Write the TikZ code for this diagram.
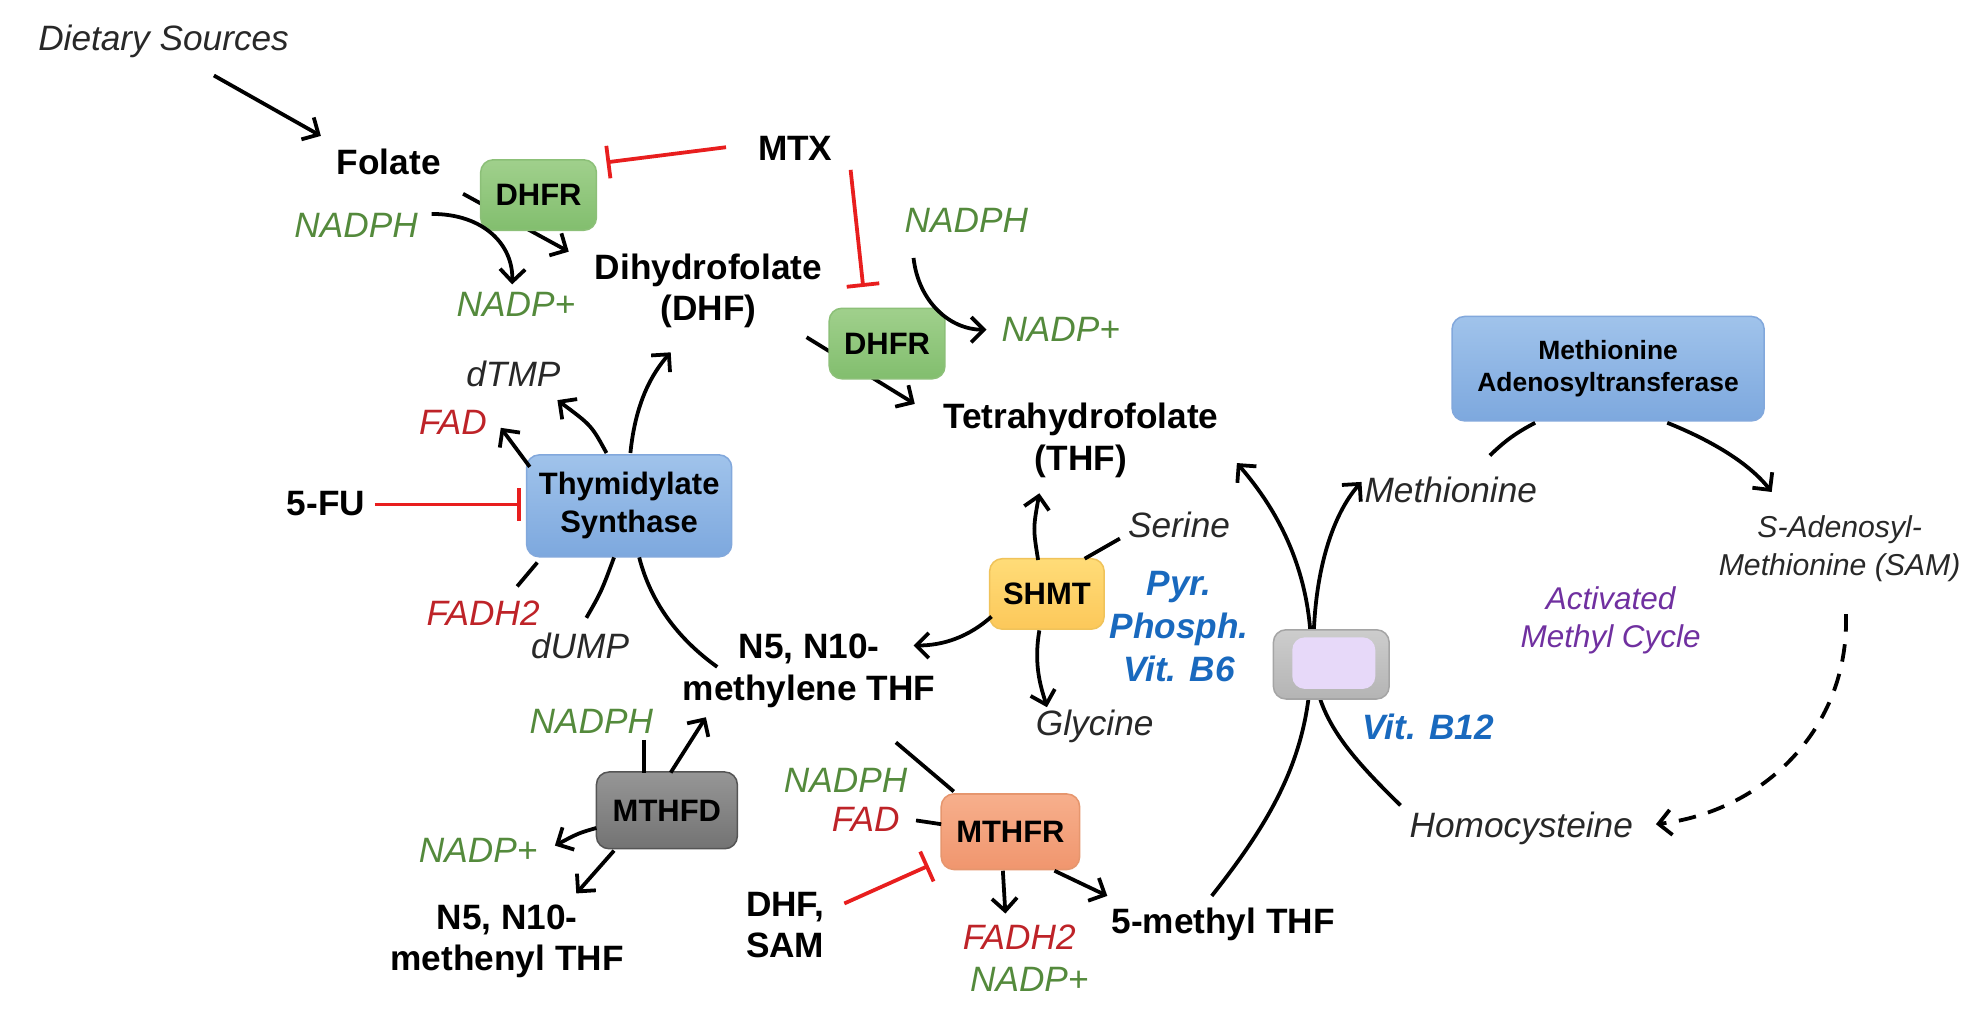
\documentclass[tikz,border=0pt]{standalone}
\usepackage{fontspec}
\setmainfont{Liberation Sans}
\usetikzlibrary{arrows.meta,calc}
\definecolor{grtxt}{RGB}{84,138,60}
\definecolor{rdtxt}{RGB}{190,35,40}
\definecolor{bltxt}{RGB}{25,105,190}
\definecolor{pptxt}{RGB}{112,48,160}
\definecolor{inhred}{RGB}{232,30,30}
\definecolor{cofgray}{RGB}{40,40,40}
\begin{document}
\begin{tikzpicture}[x=0.5pt,y=-0.5pt,
  cmp/.style={font=\bfseries\fontsize{14}{16.5}\selectfont, align=center, inner sep=0pt, text=black},
  cof/.style={font=\itshape\fontsize{14}{16.5}\selectfont, align=center, inner sep=0pt, text=cofgray},
  grn/.style={font=\itshape\fontsize{14}{16.5}\selectfont, align=center, inner sep=0pt, text=grtxt},
  rdt/.style={font=\itshape\fontsize{14}{16.5}\selectfont, align=center, inner sep=0pt, text=rdtxt},
  blt/.style={font=\bfseries\itshape\fontsize{14}{17}\selectfont, align=center, inner sep=0pt, text=bltxt},
  ppt/.style={font=\itshape\fontsize{12.5}{15}\selectfont, align=center, inner sep=0pt, text=pptxt},
  enz/.style={rounded corners=5pt, draw, line width=0.6pt, font=\bfseries\fontsize{12.3}{15}\selectfont, align=center, inner sep=0pt, text=black},
  dhfrbox/.style={enz, draw={rgb,255:red,140;green,192;blue,120}, top color={rgb,255:red,160;green,208;blue,140}, bottom color={rgb,255:red,130;green,190;blue,110}, minimum width=46pt, minimum height=28pt},
  bluebox/.style={enz, draw={rgb,255:red,130;green,168;blue,220}, top color={rgb,255:red,160;green,195;blue,235}, bottom color={rgb,255:red,125;green,168;blue,222}},
  shmtbox/.style={enz, draw={rgb,255:red,240;green,195;blue,90}, top color={rgb,255:red,255;green,220;blue,120}, bottom color={rgb,255:red,252;green,200;blue,90}, minimum width=45.5pt, minimum height=28pt},
  mthfrbox/.style={enz, draw={rgb,255:red,230;green,150;blue,110}, top color={rgb,255:red,247;green,175;blue,140}, bottom color={rgb,255:red,240;green,150;blue,110}, minimum width=55pt, minimum height=30pt},
  mthfdbox/.style={enz, draw={rgb,255:red,85;green,85;blue,85}, top color={rgb,255:red,150;green,150;blue,150}, bottom color={rgb,255:red,115;green,115;blue,115}, minimum width=56pt, minimum height=30.5pt},
  conn/.style={line width=1.5pt, black},
  arr/.style={conn, -{Straight Barb[length=5pt,width=10pt]}},
  inh/.style={line width=1.5pt, inhred, -{Bar[width=13pt]}}
]
\useasboundingbox (0,0) rectangle (1568,815);
\fill[white] (0,0) rectangle (1568,815);

% ---------- nodes ----------
\node[cof, anchor=west] (diet) at (30,33) {Dietary Sources};
\node[cmp] (folate) at (309,129) {Folate};
\node[grn] (nadph1) at (283,179) {NADPH};
\node[grn] (nadp1) at (410,242) {NADP+};
\node[cmp] (dhf) at (563,231) {Dihydrofolate\\(DHF)};
\node[cmp] (mtx) at (632,118) {MTX};
\node[grn] (nadph2) at (768,175) {NADPH};
\node[grn] (nadp2) at (843,262) {NADP+};
\node[cmp] (thf) at (859,350) {Tetrahydrofolate\\(THF)};
\node[cof] (dtmp) at (408,297) {dTMP};
\node[rdt] (fad1) at (360,336) {FAD};
\node[cmp] (fu) at (259,400) {5-FU};
\node[rdt] (fadh1) at (384,487) {FADH2};
\node[cof] (dump) at (461,513) {dUMP};
\node[cmp] (mthf) at (643,533) {N5, N10-\\methylene THF};
\node[cof] (serine) at (937,417) {Serine};
\node[cof] (glycine) at (870,577) {Glycine};
\node[blt] (b6) at (937,498) {Pyr.\\Phosph.\\Vit. B6};
\node[grn] (nadph3) at (470,573) {NADPH};
\node[grn] (nadp3) at (380,676) {NADP+};
\node[cmp] (methenyl) at (403,748) {N5, N10-\\methenyl THF};
\node[grn] (nadph4) at (672,620) {NADPH};
\node[rdt] (fad2) at (688,651) {FAD};
\node[cmp] (dhfsam) at (624,735) {DHF,\\SAM};
\node[rdt] (fadh2b) at (810,745) {FADH2};
\node[grn] (nadp4) at (818,778) {NADP+};
\node[cmp] (mthf5) at (972,735) {5-methyl THF};
\node[blt] (b12) at (1135,578) {Vit. B12};
\node[cof] (met) at (1153,389) {Methionine};
\node[cof, font=\itshape\fontsize{12}{15}\selectfont] (sam) at (1462,436) {S-Adenosyl-\\Methionine (SAM)};
\node[cof] (hcy) at (1209,658) {Homocysteine};
\node[ppt] (amc) at (1280,493) {Activated\\Methyl Cycle};

% ---------- connector end points ----------
\coordinate (dietS) at (170,60);
\coordinate (folE) at (255,108);
\coordinate (folS) at (368,154);
\coordinate (dhfW) at (452,200);
\coordinate (dhfS) at (641,268);
\coordinate (thfW) at (727,321);
\coordinate (m5a) at (963,712);
\coordinate (thfE) at (983,368);
\coordinate (hcyW) at (1113,640);
\coordinate (metW) at (1082,383);
\coordinate (nadph1E) at (343,170);
\coordinate (nadp1N) at (407,226);
\coordinate (mtxW) at (577,117);
\coordinate (dhfr1E) at (482,129);
\coordinate (mtxS) at (676,135);
\coordinate (dhfr2N) at (686,228);
\coordinate (nadph2S) at (726,205);
\coordinate (nadp2W) at (784,262);
\coordinate (tsN1) at (482,360);
\coordinate (dtmpSE) at (443,318);
\coordinate (tsNW) at (421,371);
\coordinate (fad1E) at (398,340);
\coordinate (tsN2) at (501,360);
\coordinate (dhfSo) at (533,280);
\coordinate (fuE) at (298,401);
\coordinate (tsW) at (414,401);
\coordinate (tsSW) at (427,447);
\coordinate (fadh1N) at (411,466);
\coordinate (dumpN) at (466,491);
\coordinate (tsS1) at (488,443);
\coordinate (tsS2) at (508,443);
\coordinate (mthfNW) at (570,530);
\coordinate (shmtN) at (825,445);
\coordinate (thfS) at (826,392);
\coordinate (shmtNE) at (862,444);
\coordinate (serW) at (890,428);
\coordinate (shmtSW) at (788,490);
\coordinate (mthfNE) at (726,513);
\coordinate (shmtS) at (826,501);
\coordinate (glyN) at (832,562);
\coordinate (nadph3S) at (512,588);
\coordinate (mthfdN1) at (512,614);
\coordinate (mthfdN2) at (533,614);
\coordinate (mthfSW) at (561,570);
\coordinate (mthfdW) at (474,658);
\coordinate (nadp3E) at (441,672);
\coordinate (mthfdS) at (488,676);
\coordinate (methN) at (458,710);
\coordinate (mthfSE) at (712,590);
\coordinate (mthfrNW) at (758,629);
\coordinate (fad2E) at (728,652);
\coordinate (mthfrW) at (748,655);
\coordinate (dhfsamE) at (671,718);
\coordinate (mthfrSW) at (738,688);
\coordinate (mthfrS) at (797,692);
\coordinate (fadh2N) at (799,726);
\coordinate (mthfrSE) at (838,692);
\coordinate (m5N) at (880,712);
\coordinate (metNE) at (1184,362);
\coordinate (matSW) at (1220,336);
\coordinate (matSE) at (1325,336);
\coordinate (samN) at (1408,391);
\coordinate (samS) at (1467,488);
\coordinate (hcyE) at (1316,655);

% ---------- connectors behind boxes ----------
\draw[arr] (dietS) -- (folE);
\draw[arr] (folS) -- (dhfW);
\draw[arr] (dhfS) -- (thfW);
\draw[arr] (m5a) .. controls (1012,650) and (1040,600) .. (1042,528) .. controls (1044,455) and (1015,405) .. (thfE);
\draw[arr] (hcyW) .. controls (1072,600) and (1046,570) .. (1044,528) .. controls (1042,460) and (1058,410) .. (metW);

% ---------- enzyme boxes ----------
\node[dhfrbox] (dhfr1) at (428,155) {DHFR};
\node[dhfrbox] (dhfr2) at (705,273) {DHFR};
\node[bluebox, minimum width=81.5pt, minimum height=40.5pt] (ts) at (500,402) {Thymidylate\\Synthase};
\node[shmtbox] (shmt) at (832,472) {SHMT};
\node[mthfdbox] (mthfd) at (530,644) {MTHFD};
\node[mthfrbox] (mthfr) at (803,661) {MTHFR};
\node[enz, draw={rgb,255:red,165;green,165;blue,165}, top color={rgb,255:red,205;green,205;blue,205}, bottom color={rgb,255:red,180;green,180;blue,180}, minimum width=46pt, minimum height=27.5pt] (ms) at (1058,528) {};
\node[rounded corners=5pt, fill={rgb,255:red,231;green,217;blue,249}, minimum width=33pt, minimum height=20.5pt, inner sep=0pt] (msin) at (1060,527) {};
\node[bluebox, font=\bfseries\fontsize{10.5}{13}\selectfont, minimum width=124pt, minimum height=41.5pt] (mat) at (1278,293) {Methionine\\Adenosyltransferase};

% ---------- other connectors ----------
% DHFR 1
\draw[arr] (nadph1E) .. controls (385,170) and (408,195) .. (nadp1N);
\draw[inh] (mtxW) -- (dhfr1E);
% DHFR 2
\draw[inh] (mtxS) -- (dhfr2N);
\draw[arr] (nadph2S) .. controls (730,240) and (755,262) .. (nadp2W);
% Thymidylate synthase
\draw[arr] (tsN1) .. controls (470,338) .. (dtmpSE);
\draw[arr] (tsNW) -- (fad1E);
\draw[arr] (tsN2) .. controls (505,320) and (518,297) .. (dhfSo);
\draw[inh] (fuE) -- (tsW);
\draw[conn] (tsSW) -- (fadh1N);
\draw[conn] (dumpN) .. controls (478,470) .. (tsS1);
\draw[conn] (tsS2) .. controls (518,482) and (542,510) .. (mthfNW);
% SHMT
\draw[arr] (shmtN) .. controls (821,420) .. (thfS);
\draw[conn] (shmtNE) -- (serW);
\draw[arr] (shmtSW) .. controls (770,506) and (750,513) .. (mthfNE);
\draw[arr] (shmtS) .. controls (821,530) and (828,548) .. (glyN);
% MTHFD
\draw[conn] (nadph3S) -- (mthfdN1);
\draw[arr] (mthfdN2) -- (mthfSW);
\draw[arr] (mthfdW) .. controls (460,662) .. (nadp3E);
\draw[arr] (mthfdS) -- (methN);
% MTHFR
\draw[conn] (mthfSE) -- (mthfrNW);
\draw[conn] (fad2E) -- (mthfrW);
\draw[inh] (dhfsamE) -- (mthfrSW);
\draw[arr] (mthfrS) -- (fadh2N);
\draw[arr] (mthfrSE) -- (m5N);
% Methionine cycle
\draw[conn] (metNE) to[bend left=8] (matSW);
\draw[arr] (matSE) .. controls (1360,350) and (1390,368) .. (samN);
\draw[arr, dash pattern=on 7pt off 5pt] (samS) .. controls (1470,580) and (1400,645) .. (hcyE);
\end{tikzpicture}
\end{document}
